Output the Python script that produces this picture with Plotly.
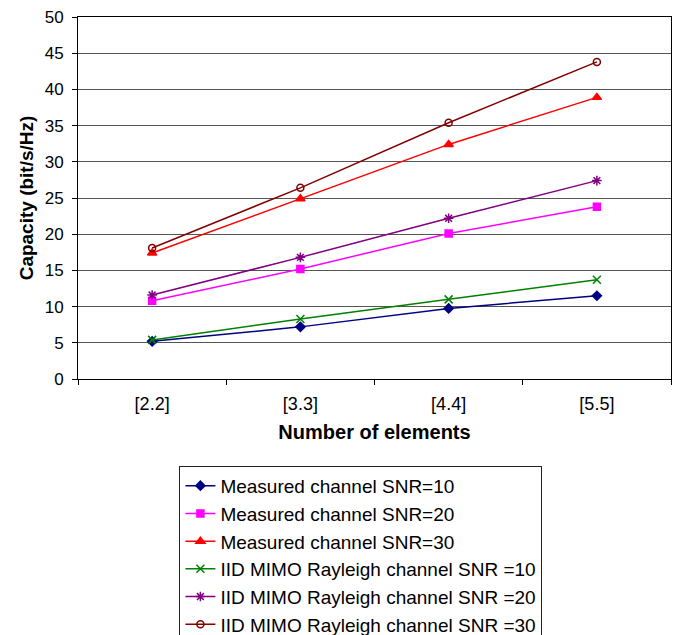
import plotly.graph_objects as go

categories = ["[2.2]", "[3.3]", "[4.4]", "[5.5]"]
meas_snr10 = [5.2, 7.2, 9.75, 11.5]
meas_snr20 = [10.8, 15.2, 20.1, 23.8]
meas_snr30 = [17.4, 24.9, 32.4, 38.9]
iid_snr10 = [5.4, 8.3, 11.0, 13.7]
iid_snr20 = [11.6, 16.8, 22.2, 27.4]
iid_snr30 = [18.1, 26.4, 35.4, 43.8]

names = [
    "Measured channel SNR=10",
    "Measured channel SNR=20",
    "Measured channel SNR=30",
    "IID MIMO Rayleigh channel SNR =10",
    "IID MIMO Rayleigh channel SNR =20",
    "IID MIMO Rayleigh channel SNR =30",
]
series = [meas_snr10, meas_snr20, meas_snr30, iid_snr10, iid_snr20, iid_snr30]
colors = ["#000080", "#FF00FF", "#FF0000", "#008000", "#800080", "#800000"]
symbols = ["diamond", "square", "triangle-up", "x-thin-open", "asterisk-open", "circle-open"]
sizes = [7, 7, 8, 8, 8, 7]

fig = go.Figure()
for i, (n, s, c, sym, sz) in enumerate(zip(names, series, colors, symbols, sizes)):
    fig.add_trace(go.Scatter(
        x=categories, y=s, name=n, mode="lines+markers",
        line=dict(color=c, width=1.5),
        marker=dict(symbol=sym, size=sz, color=c, line=dict(color=c, width=1.5)),
        legendgroup=f"g{i}",
    ))

font = "Liberation Sans, Arial, sans-serif"
fig.update_layout(
    width=678, height=635,
    margin=dict(l=78, r=7, t=17, b=256, autoexpand=False),
    plot_bgcolor="white", paper_bgcolor="white",
    font=dict(family=font, color="black", size=17),
    showlegend=True,
    legend=dict(
        x=0.171, y=-0.240, xanchor="left", yanchor="top",
        bordercolor="#222", borderwidth=1,
        font=dict(family=font, size=19, color="black"),
        traceorder="grouped", tracegroupgap=0,
        itemwidth=30,
    ),
    xaxis=dict(
        type="category", range=[-0.5, 3.5],
        showline=True, linecolor="black", linewidth=1, mirror=True,
        ticks="outside", tickson="boundaries", ticklen=5, tickcolor="black",
        showgrid=False,
        tickfont=dict(size=18), ticklabelstandoff=8,
        title=dict(text="<b>Number of elements</b>", font=dict(size=20), standoff=12),
    ),
    yaxis=dict(
        range=[0, 50], dtick=5, showline=True, linecolor="black", linewidth=1, mirror=True,
        ticks="outside", ticklen=5, tickcolor="black",
        showgrid=True, gridcolor="#555", gridwidth=1,
        zeroline=False,
        tickfont=dict(size=17), ticklabelstandoff=5,
        title=dict(text="<b>Capacity (bit/s/Hz)</b>", font=dict(size=19), standoff=6),
    ),
)

fig.write_html("out.html")
